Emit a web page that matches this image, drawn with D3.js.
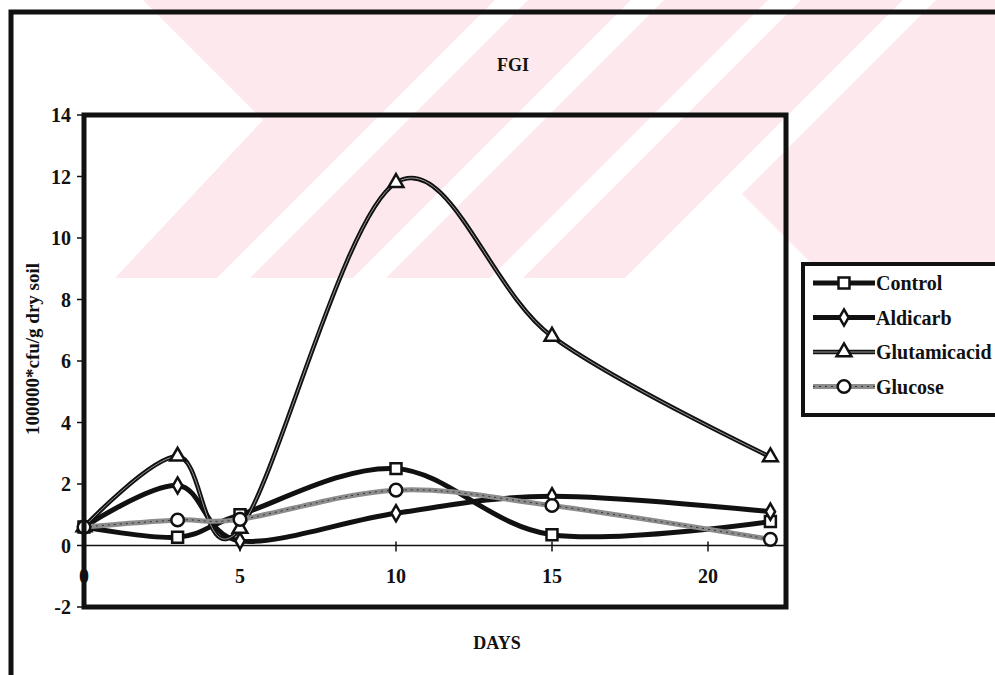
<!DOCTYPE html>
<html>
<head>
<meta charset="utf-8">
<script src="https://cdn.jsdelivr.net/npm/d3@7"></script>
<style>
  body { margin: 0; background: #fff; }
  text { font-family: "Liberation Serif", "Times New Roman", serif; font-weight: bold; fill: #111; }
</style>
</head>
<body>
<div id="chart"></div>
<script>
// data
var days = [0, 3, 5, 10, 15, 22];
var controlVals = [0.6, 0.27, 1.0, 2.5, 0.35, 0.78];
var aldicarbVals = [0.6, 1.95, 0.15, 1.05, 1.6, 1.1];
var glutamicVals = [0.6, 2.9, 0.55, 11.8, 6.8, 2.88];
var glucoseVals = [0.6, 0.83, 0.85, 1.8, 1.3, 0.2];
var seriesNames = ["Control", "Aldicarb", "Glutamicacid", "Glucose"];
var xTicks = [0, 5, 10, 15, 20];
var yTicks = [-2, 0, 2, 4, 6, 8, 10, 12, 14];

var width = 995, height = 675;
var plot = { left: 84, top: 115, right: 786, bottom: 607 };

var svg = d3.select("#chart").append("svg")
    .attr("width", width)
    .attr("height", height);

// faint watermark from the scan: pink field cut by white diagonal stripes
var pink = "#fde9ed";
var wm = svg.append("g");
wm.append("clipPath").attr("id", "wmclip")
    .append("rect").attr("x", 0).attr("y", 0).attr("width", width).attr("height", 278);
var wmg = wm.append("g").attr("clip-path", "url(#wmclip)");
wmg.append("polygon")
    .attr("points", [[143, 0], [995, 0], [995, 278], [115, 278], [263, 120]].join(" "))
    .attr("fill", pink);
var stripeStarts = [217, 353, 490, 625];
wmg.selectAll(".stripe").data(stripeStarts).enter().append("polygon")
    .attr("points", d => [[d, 278], [d + 33, 278], [d + 33 + 300, -22], [d + 300, -22]].join(" "))
    .attr("fill", "#fff");
wmg.append("polygon")
    .attr("points", [[635, 278], [730, 182], [826, 278]].join(" "))
    .attr("fill", "#fff");

// outer frame of the figure (runs off the page right and bottom)
svg.append("path")
    .attr("d", "M11,690 L11,12 L1010,12")
    .attr("fill", "none")
    .attr("stroke", "#111")
    .attr("stroke-width", 5);

var x = d3.scaleLinear().domain([0, 22.5]).range([plot.left, plot.right]);
var y = d3.scaleLinear().domain([-2, 14]).range([plot.bottom, plot.top]);

// title and axis titles
svg.append("text").attr("x", 513).attr("y", 71)
    .attr("text-anchor", "middle").style("font-size", "18px").text("FGI");
svg.append("text").attr("x", 497).attr("y", 649)
    .attr("text-anchor", "middle").style("font-size", "18px").text("DAYS");
svg.append("text")
    .attr("transform", "translate(39,349) rotate(-90)")
    .attr("text-anchor", "middle").style("font-size", "19px")
    .text("100000*cfu/g dry soil");

// y ticks and labels
svg.selectAll(".ytick").data(yTicks).enter().append("line")
    .attr("x1", plot.left - 7).attr("x2", plot.left)
    .attr("y1", d => y(d)).attr("y2", d => y(d))
    .attr("stroke", "#111").attr("stroke-width", 1.5);
svg.selectAll(".ylab").data(yTicks).enter().append("text")
    .attr("x", plot.left - 13).attr("y", d => y(d) + 7)
    .attr("text-anchor", "end").style("font-size", "20px")
    .text(d => d);

// x axis along y = 0
svg.append("line")
    .attr("x1", plot.left).attr("x2", plot.right)
    .attr("y1", y(0)).attr("y2", y(0))
    .attr("stroke", "#111").attr("stroke-width", 1.5);
svg.selectAll(".xtick").data(xTicks).enter().append("line")
    .attr("x1", d => x(d)).attr("x2", d => x(d))
    .attr("y1", y(0) - 4).attr("y2", y(0) + 6)
    .attr("stroke", "#111").attr("stroke-width", 1.5);
svg.selectAll(".xlab").data(xTicks).enter().append("text")
    .attr("x", d => x(d)).attr("y", y(0) + 37)
    .attr("text-anchor", "middle").style("font-size", "20px")
    .text(d => d);

var line = d3.line()
    .x(d => x(d[0]))
    .y(d => y(d[1]))
    .curve(d3.curveCardinal.tension(0));

var symbolFor = {
    Control: d3.symbolSquare,
    Aldicarb: d3.symbolDiamond,
    Glutamicacid: d3.symbolTriangle,
    Glucose: d3.symbolCircle
};
var symbolSize = { Control: 120, Aldicarb: 75, Glutamicacid: 95, Glucose: 125 };

function drawLine(g, d, name) {
    if (name === "Glutamicacid") {
        g.append("path").attr("d", d).attr("fill", "none").attr("stroke", "#111").attr("stroke-width", 4.5);
        g.append("path").attr("d", d).attr("fill", "none").attr("stroke", "#999").attr("stroke-width", 1);
    } else if (name === "Glucose") {
        g.append("path").attr("d", d).attr("fill", "none").attr("stroke", "#8c8c8c").attr("stroke-width", 5);
        g.append("path").attr("d", d).attr("fill", "none").attr("stroke", "#333")
            .attr("stroke-width", 1).attr("stroke-dasharray", "2,4");
    } else {
        g.append("path").attr("d", d).attr("fill", "none").attr("stroke", "#111").attr("stroke-width", 5);
    }
}

function drawMarker(g, name, cx, cy) {
    g.append("path")
        .attr("d", d3.symbol().type(symbolFor[name]).size(symbolSize[name])())
        .attr("transform", "translate(" + cx + "," + cy + ")")
        .attr("fill", "#fff").attr("stroke", "#111").attr("stroke-width", 2.5);
}

var allVals = [controlVals, aldicarbVals, glutamicVals, glucoseVals];
allVals.forEach(function (vals, i) {
    var name = seriesNames[i];
    var pts = days.map((d, j) => [d, vals[j]]);
    var g = svg.append("g");
    drawLine(g, line(pts), name);
    pts.forEach(p => drawMarker(g, name, x(p[0]), y(p[1])));
});

// plot border drawn last so it sits over the "0" label like in the scan
svg.append("rect")
    .attr("x", plot.left).attr("y", plot.top)
    .attr("width", plot.right - plot.left).attr("height", plot.bottom - plot.top)
    .attr("fill", "none").attr("stroke", "#111").attr("stroke-width", 5);

// legend box, runs off the right edge
var leg = svg.append("g");
leg.append("rect")
    .attr("x", 803).attr("y", 264).attr("width", 220).attr("height", 151)
    .attr("fill", "#fff").attr("stroke", "#111").attr("stroke-width", 4);
seriesNames.forEach(function (name, i) {
    var ly = 283 + i * 34.5;
    drawLine(leg, "M813," + ly + "L875," + ly, name);
    drawMarker(leg, name, 844, ly);
    leg.append("text").attr("x", 876).attr("y", ly + 7)
        .style("font-size", "20px").text(name);
});
</script>
</body>
</html>
